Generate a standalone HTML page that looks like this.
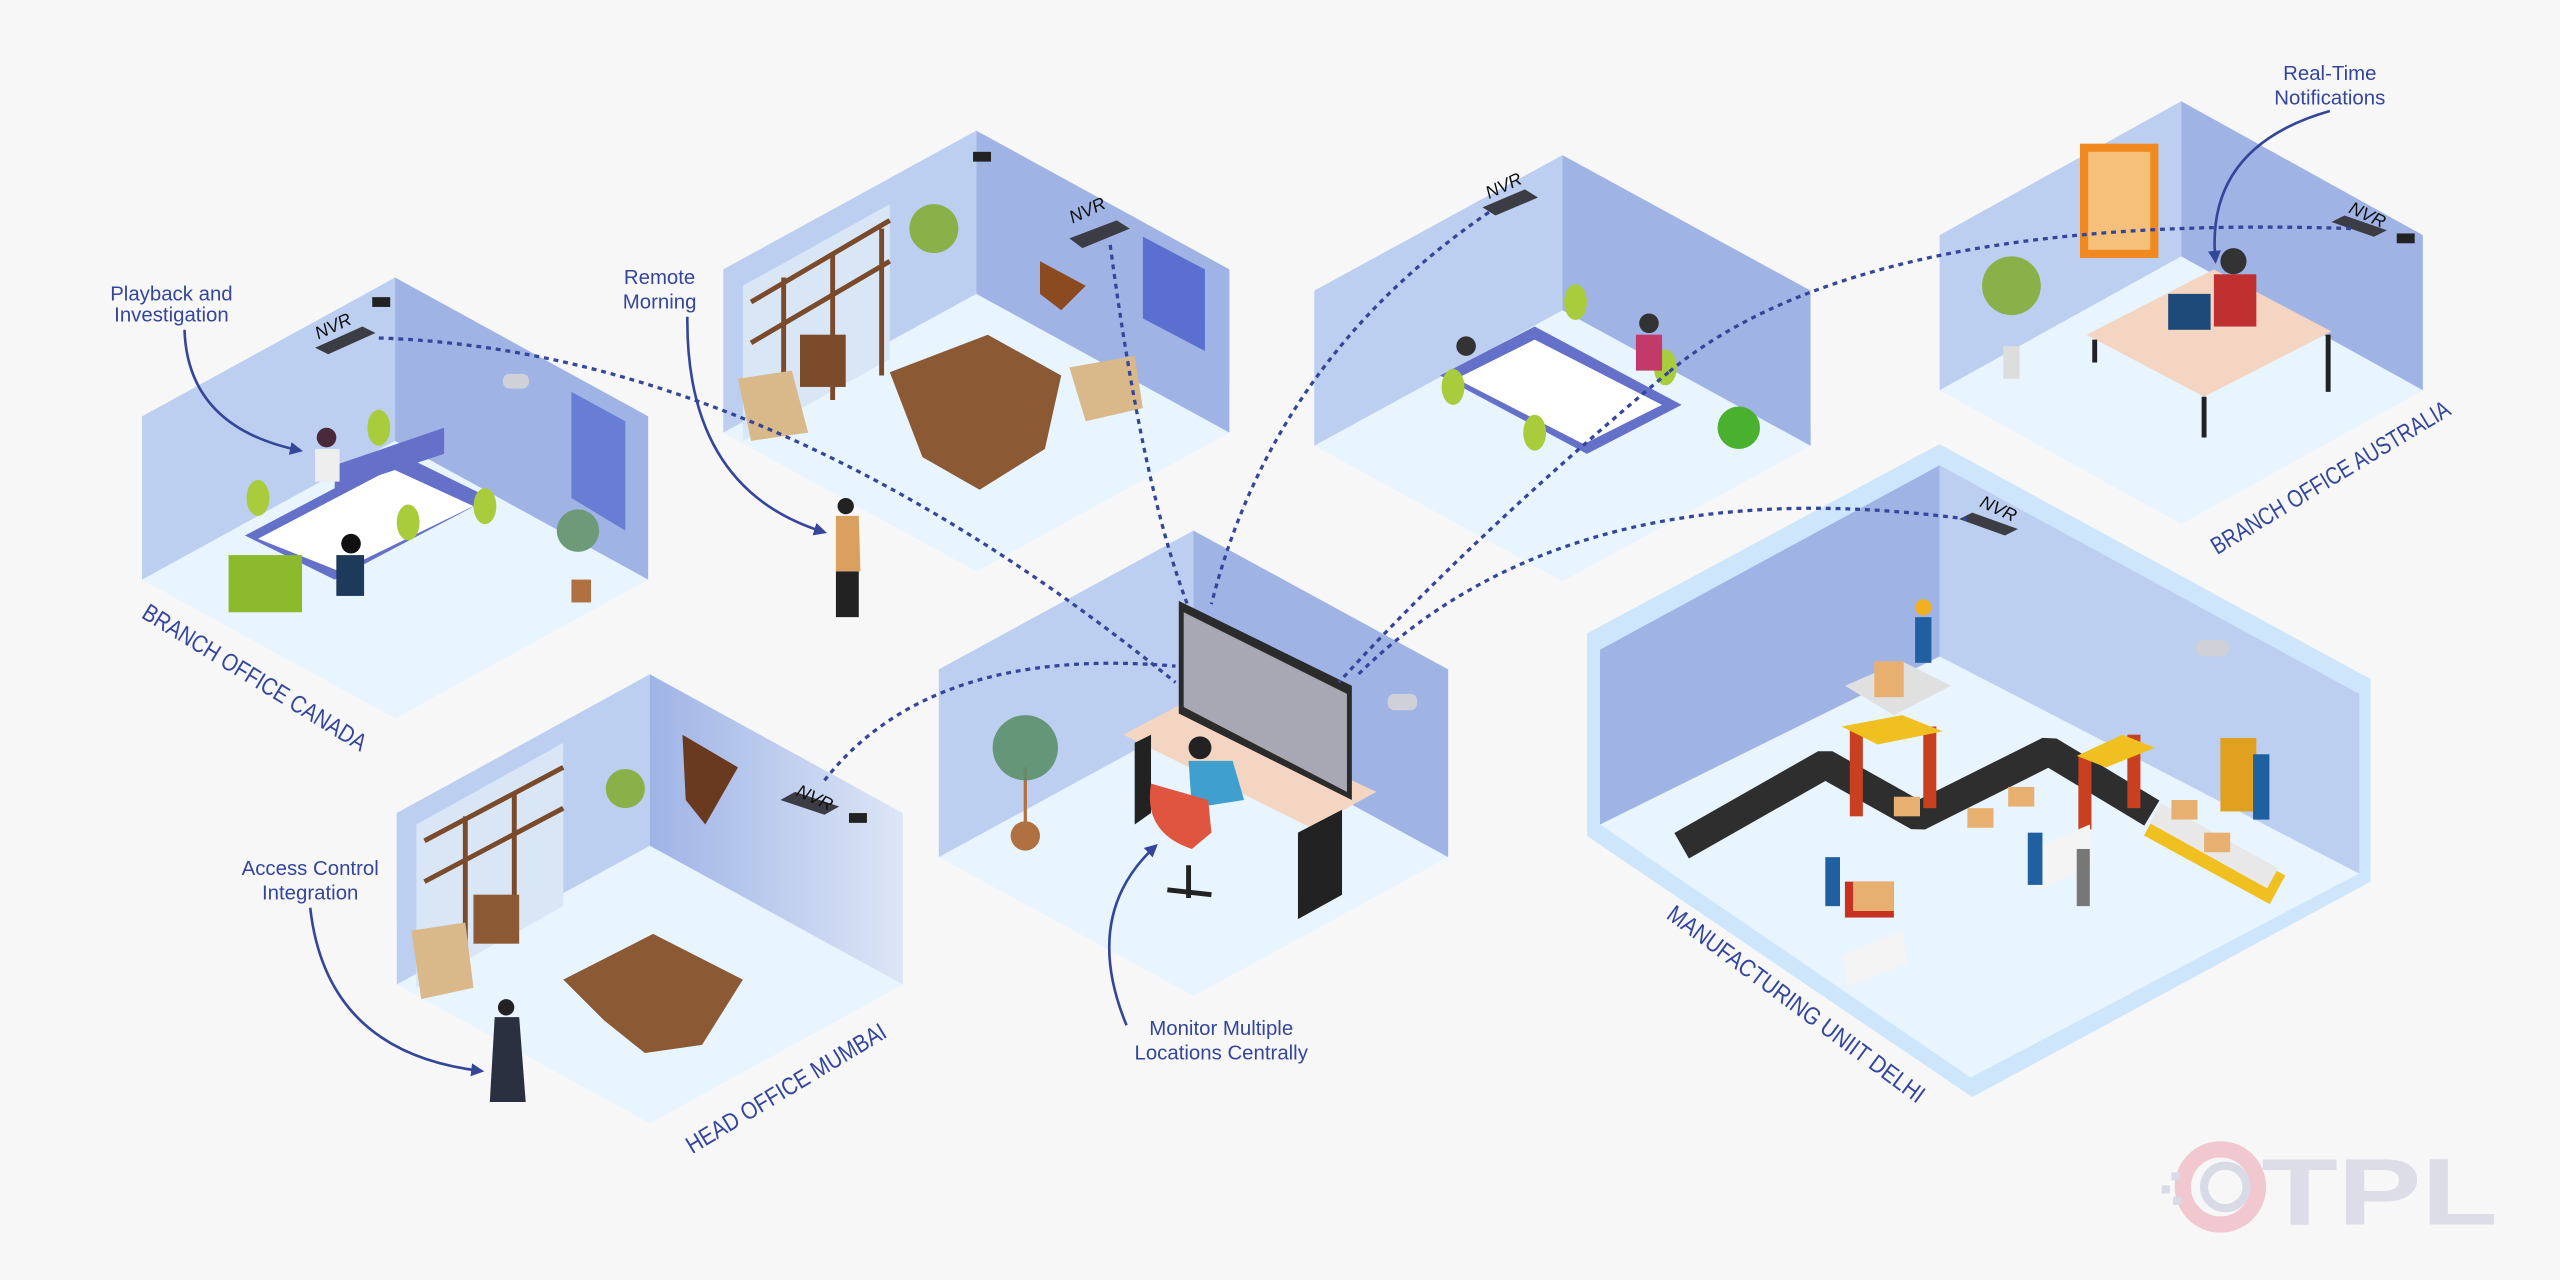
<!DOCTYPE html>
<html><head><meta charset="utf-8">
<style>
html,body{margin:0;padding:0;background:#f7f7f8;}
svg{display:block}
text{font-family:"Liberation Sans",sans-serif;fill:#34469a}
</style></head>
<body>
<svg width="2560" height="1280" viewBox="0 0 1568 784" xmlns="http://www.w3.org/2000/svg">
<defs>
<marker id="ah" viewBox="0 0 10 10" refX="8" refY="5" markerWidth="5" markerHeight="5" orient="auto"><path d="M0,0 L10,5 L0,10 z" fill="#34469a"/></marker>
<linearGradient id="mg" x1="0" x2="1" y1="0" y2="0"><stop offset="0" stop-color="#9fb4e6"/><stop offset="1" stop-color="#dde6f6"/></linearGradient>
</defs>
<rect width="1568" height="784" fill="#f7f7f8"/>

<!-- Canada -->
<polygon points="242,270 397,355 242,440 87,355" fill="#e8f4fe"/>
<polygon points="87,255 242,170 242,270 87,355" fill="#bccff0"/>
<polygon points="242,170 397,255 397,355 242,270" fill="#9fb3e5"/>
<polygon points="350,240 383,258 383,325 350,305" fill="#5a6fd0" opacity=".8"/>
<!-- desks -->
<polygon points="150,328 245,278 300,305 205,355" fill="#6570c8"/>
<polygon points="158,330 240,287 290,310 208,350" fill="#ffffff"/>
<polygon points="205,285 272,262 272,278 205,300" fill="#6570c8"/>
<rect x="140" y="340" width="45" height="35" fill="#8cba2c"/>
<ellipse cx="232" cy="262" rx="7" ry="11" fill="#a8cc3c"/><ellipse cx="158" cy="305" rx="7" ry="11" fill="#a8cc3c"/>
<ellipse cx="297" cy="310" rx="7" ry="11" fill="#a8cc3c"/><ellipse cx="250" cy="320" rx="7" ry="11" fill="#a8cc3c"/>
<circle cx="200" cy="268" r="6" fill="#4a2a3a"/><rect x="193" y="275" width="15" height="20" fill="#eee"/>
<circle cx="215" cy="333" r="6" fill="#111"/><rect x="206" y="340" width="17" height="25" fill="#1e3a5a"/>
<circle cx="354" cy="325" r="13" fill="#6f9a7a"/><rect x="350" y="355" width="12" height="14" fill="#b07040"/>
<!-- Mumbai -->
<polygon points="398,518 553,603 398,688 243,603" fill="#e8f4fe"/>
<polygon points="243,498 398,413 398,518 243,603" fill="#bccff0"/>
<polygon points="398,413 553,498 553,603 398,518" fill="url(#mg)"/>
<polygon points="255,505 345,455 345,555 255,605" fill="#d8e6f6"/>
<path d="M260,515 L345,470 M260,540 L345,495 M285,500 L285,590 M315,485 L315,575" stroke="#7a4a2a" stroke-width="3"/>
<polygon points="418,450 452,470 432,505 420,490" fill="#6a3a20"/>
<polygon points="345,600 400,572 455,600 430,640 395,645 370,625" fill="#8b5a35"/>
<rect x="290" y="548" width="28" height="30" fill="#8b5a35"/>
<polygon points="252,570 285,565 290,605 258,612" fill="#d9b88a"/>
<circle cx="383" cy="483" r="12" fill="#8ab04a"/>
<circle cx="310" cy="617" r="5" fill="#222"/><polygon points="303,623 318,623 322,675 300,675" fill="#2a3040"/>
<!-- Remote -->
<polygon points="598,180 753,265 598,350 443,265" fill="#e8f4fe"/>
<polygon points="443,165 598,80 598,180 443,265" fill="#bccff0"/>
<polygon points="598,80 753,165 753,265 598,180" fill="#9fb3e5"/>
<polygon points="455,175 545,125 545,220 455,270" fill="#d8e6f6"/>
<path d="M460,185 L545,135 M460,210 L545,160 M480,170 L480,260 M510,155 L510,245 M540,140 L540,230" stroke="#7a4a2a" stroke-width="3"/>
<polygon points="700,145 738,165 738,215 700,195" fill="#5a6fd0"/>
<polygon points="637,160 665,175 650,190 637,180" fill="#8b4a20"/>
<polygon points="545,228 605,205 650,230 640,275 600,300 565,280" fill="#8b5a35"/>
<rect x="490" y="205" width="28" height="32" fill="#7a4a2a"/>
<polygon points="452,232 485,227 495,265 460,270" fill="#d9b88a"/>
<polygon points="655,225 695,218 700,250 665,258" fill="#d9b88a"/>
<circle cx="572" cy="140" r="15" fill="#8ab04a"/>
<circle cx="518" cy="310" r="5" fill="#222"/><polygon points="512,316 526,316 527,350 512,350" fill="#d9a060"/><rect x="512" y="350" width="14" height="28" fill="#222"/>
<!-- Central -->
<polygon points="731,440 887,525 731,610 575,525" fill="#e8f4fe"/>
<polygon points="575,410 731,325 731,440 575,525" fill="#bccff0"/>
<polygon points="731,325 887,410 887,525 731,440" fill="#9fb3e5"/>
<polygon points="688,450 726,430 843,485 803,507" fill="#f3d5c2"/>
<polygon points="695,455 705,450 705,498 695,505" fill="#222"/>
<polygon points="795,510 822,496 822,548 795,563" fill="#222"/>
<polygon points="722,368 828,420 828,490 722,437" fill="#2b2b2b"/>
<polygon points="725,375 825,425 825,485 725,433" fill="#a8a8b4"/>
<circle cx="735" cy="458" r="7" fill="#222"/>
<polygon points="728,466 755,466 762,490 730,495" fill="#3fa0d0"/>
<path d="M705,480 Q700,510 730,520 L742,510 L740,490 Z" fill="#e05540"/>
<path d="M728,530 L728,550 M715,545 L742,548" stroke="#222" stroke-width="3"/>
<path d="M628,505 L628,470" stroke="#b07040" stroke-width="2"/>
<circle cx="628" cy="458" r="20" fill="#5c8f6a" opacity=".9"/>
<ellipse cx="628" cy="512" rx="9" ry="9" fill="#b07040"/>
<!-- Top right -->
<polygon points="957,190 1109,273 957,356 805,273" fill="#e8f4fe"/>
<polygon points="805,178 957,95 957,190 805,273" fill="#bccff0"/>
<polygon points="957,95 1109,178 1109,273 957,190" fill="#9fb3e5"/>
<polygon points="882,230 940,200 1030,248 972,278" fill="#6570c8"/>
<polygon points="892,232 940,208 1018,248 970,272" fill="#ffffff"/>
<ellipse cx="965" cy="185" rx="7" ry="11" fill="#a8cc3c"/><ellipse cx="890" cy="237" rx="7" ry="11" fill="#a8cc3c"/><ellipse cx="940" cy="265" rx="7" ry="11" fill="#a8cc3c"/><ellipse cx="1020" cy="225" rx="7" ry="11" fill="#a8cc3c"/>
<circle cx="898" cy="212" r="6" fill="#333"/><circle cx="1010" cy="198" r="6" fill="#333"/><rect x="1002" y="205" width="16" height="22" fill="#c23a6a"/>
<circle cx="1065" cy="262" r="13" fill="#4ab030"/>
<!-- Australia -->
<polygon points="1336,157 1484,239 1336,321 1188,239" fill="#e8f4fe"/>
<polygon points="1188,144 1336,62 1336,157 1188,239" fill="#bccff0"/>
<polygon points="1336,62 1484,144 1484,239 1336,157" fill="#9fb3e5"/>
<rect x="1274" y="88" width="48" height="70" fill="#f08a20"/><rect x="1279" y="93" width="38" height="60" fill="#f4c07a"/>
<polygon points="1278,205 1356,165 1428,203 1350,243" fill="#f3d5c2"/>
<path d="M1283,208 L1283,222 M1350,243 L1350,268 M1426,205 L1426,240" stroke="#222" stroke-width="3"/>
<circle cx="1368" cy="160" r="8" fill="#333"/><rect x="1356" y="168" width="26" height="32" fill="#c03030"/>
<rect x="1328" y="180" width="26" height="22" fill="#1e4a7a"/>
<circle cx="1232" cy="175" r="18" fill="#8ab04a"/><rect x="1227" y="212" width="10" height="20" fill="#ddd"/>
<!-- Manufacturing -->
<polygon points="1188,272 1452,416 1452,540 1208,672 972,512 972,388" fill="#cde6fb"/>
<polygon points="1188,402 1445,535 1207,660 980,505" fill="#e8f4fe"/>
<polygon points="980,398 1188,285 1188,402 980,505" fill="#9fb3e5"/>
<polygon points="1188,285 1445,425 1445,535 1188,402" fill="#bccff0"/>
<polyline points="1030,518 1118,468 1175,500 1255,460 1318,498" fill="none" stroke="#2e2e2e" stroke-width="18" stroke-linejoin="bevel"/>
<polyline points="1318,503 1395,545" fill="none" stroke="#f0c020" stroke-width="20"/>
<polyline points="1320,498 1392,538" fill="none" stroke="#e8e8e8" stroke-width="14"/>
<rect x="1133" y="445" width="8" height="55" fill="#c84020"/><rect x="1178" y="445" width="8" height="50" fill="#c84020"/>
<polygon points="1128,445 1165,438 1190,448 1150,456" fill="#f0c020"/>
<rect x="1273" y="463" width="8" height="45" fill="#c84020"/><rect x="1303" y="450" width="8" height="45" fill="#c84020"/>
<polygon points="1272,463 1300,450 1320,458 1290,470" fill="#f0c020"/>
<polygon points="1130,420 1165,405 1195,420 1160,438" fill="#e0e0e0"/>
<rect x="1148" y="405" width="18" height="22" fill="#e8b070"/>
<circle cx="1178" cy="372" r="5" fill="#f0b020"/><rect x="1173" y="378" width="10" height="28" fill="#2060a0"/>
<rect x="1360" y="452" width="22" height="45" fill="#e0a020"/><rect x="1380" y="462" width="10" height="40" fill="#1e60a0"/>
<rect x="1118" y="525" width="9" height="30" fill="#2060a0"/><rect x="1130" y="540" width="30" height="22" fill="#c83020"/><rect x="1135" y="540" width="25" height="18" fill="#e8b070"/>
<polygon points="1128,585 1165,570 1168,590 1132,604" fill="#f4f4f4"/>
<polygon points="1245,520 1280,505 1282,530 1248,545" fill="#f4f4f4"/>
<rect x="1242" y="510" width="9" height="32" fill="#2060a0"/><rect x="1272" y="520" width="8" height="35" fill="#777"/>
<rect x="1205" y="495" width="16" height="12" fill="#e8b070"/><rect x="1230" y="482" width="16" height="12" fill="#e8b070"/><rect x="1160" y="488" width="16" height="12" fill="#e8b070"/><rect x="1330" y="490" width="16" height="12" fill="#e8b070"/><rect x="1350" y="510" width="16" height="12" fill="#e8b070"/>

<!-- NVRs -->
<g fill="#3c3c44">
<polygon points="193,213 222,200 230,204 201,217"/>
<polygon points="655,146 684,135 692,140 663,152"/>
<polygon points="908,127 934,116 942,121 916,132"/>
<polygon points="478,490 505,499 514,494 487,485"/>
<polygon points="1428,136 1454,145 1462,141 1436,132"/>
<polygon points="1200,318 1228,328 1236,324 1208,314"/>
</g>
<g font-size="11" font-style="italic" fill="#111">
<text x="195" y="208" transform="rotate(-25 195 208)" style="fill:#111">NVR</text>
<text x="657" y="137" transform="rotate(-25 657 137)" style="fill:#111">NVR</text>
<text x="912" y="122" transform="rotate(-25 912 122)" style="fill:#111">NVR</text>
<text x="487" y="487" transform="rotate(25 487 487)" style="fill:#111">NVR</text>
<text x="1438" y="130" transform="rotate(25 1438 130)" style="fill:#111">NVR</text>
<text x="1212" y="310" transform="rotate(25 1212 310)" style="fill:#111">NVR</text>
</g>
<!-- cameras -->
<g fill="#222"><rect x="228" y="182" width="11" height="6"/><rect x="596" y="93" width="11" height="6"/><rect x="1468" y="143" width="11" height="6"/><rect x="520" y="498" width="11" height="6"/></g>
<g fill="#cfd0d8"><rect x="308" y="229" width="16" height="9" rx="4"/><rect x="850" y="425" width="18" height="10" rx="4"/><rect x="1345" y="392" width="20" height="10" rx="4"/></g>

<!-- dotted connectors -->
<g fill="none" stroke="#34469a" stroke-width="2" stroke-dasharray="3,3">
<path d="M232,207 Q470,215 720,418"/>
<path d="M680,150 Q700,300 728,372"/>
<path d="M912,130 Q780,220 742,370"/>
<path d="M505,478 Q570,395 720,408"/>
<path d="M1440,140 Q1140,130 1022,228"/>
<path d="M1022,228 Q900,330 820,418"/>
<path d="M1205,318 Q960,285 830,415"/>
</g>
<!-- callout arrows -->
<g fill="none" stroke="#34469a" stroke-width="1.6" marker-end="url(#ah)">
<path d="M113,202 Q115,262 184,276"/>
<path d="M421,194 Q420,300 505,326"/>
<path d="M1427,68 Q1350,90 1357,160"/>
<path d="M190,556 Q200,645 295,656"/>
<path d="M690,628 Q662,560 708,518"/>
</g>
<!-- labels -->
<g font-size="12.5" text-anchor="middle">
<text x="105" y="184">Playback and</text><text x="105" y="197">Investigation</text>
<text x="404" y="174">Remote</text><text x="404" y="189">Morning</text>
<text x="1427" y="49">Real-Time</text><text x="1427" y="64">Notifications</text>
<text x="190" y="536">Access Control</text><text x="190" y="551">Integration</text>
<text x="748" y="634">Monitor Multiple</text><text x="748" y="649">Locations Centrally</text>
</g>
<g font-size="15">
<text x="86" y="378" transform="rotate(31.5 86 378)" textLength="158" lengthAdjust="spacingAndGlyphs">BRANCH OFFICE CANADA</text>
<text x="424" y="707" transform="rotate(-31 424 707)" textLength="140" lengthAdjust="spacingAndGlyphs">HEAD OFFICE MUMBAI</text>
<text x="1358" y="340" transform="rotate(-31 1358 340)" textLength="168" lengthAdjust="spacingAndGlyphs">BRANCH OFFICE AUSTRALIA</text>
<text x="1020" y="562" transform="rotate(36.5 1020 562)" textLength="192" lengthAdjust="spacingAndGlyphs">MANUFACTURING UNIIT DELHI</text>
</g>
<!-- logo -->
<circle cx="1360" cy="727" r="23" fill="none" stroke="#f2c8d0" stroke-width="10"/>
<circle cx="1363" cy="727" r="13" fill="none" stroke="#d8dae6" stroke-width="5"/>
<g fill="#d8dae6"><rect x="1330" y="718" width="5" height="5"/><rect x="1324" y="726" width="5" height="5"/><rect x="1331" y="733" width="5" height="5"/></g>
<text x="1385" y="750" font-size="58" font-weight="bold" style="fill:#dcdde6" textLength="145" lengthAdjust="spacingAndGlyphs">TPL</text>
</svg>
</body></html>
